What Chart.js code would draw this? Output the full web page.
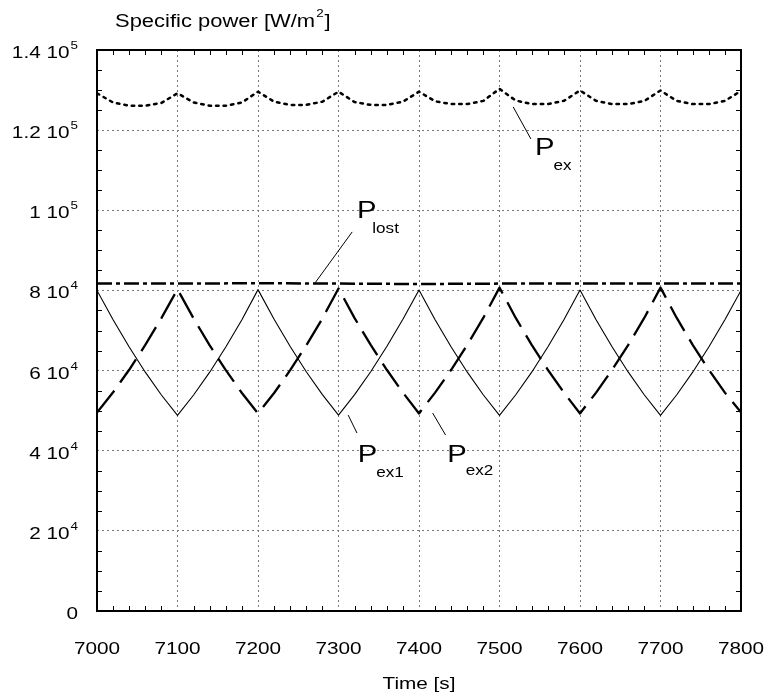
<!DOCTYPE html>
<html>
<head>
<meta charset="utf-8">
<script src="https://cdn.jsdelivr.net/npm/chart.js@4.4.1/dist/chart.umd.min.js"></script>
<style>
html,body{margin:0;padding:0;background:#fff}
canvas{display:block}
</style>
</head>
<body>
<canvas id="c" width="769" height="699"></canvas>
<script>
// time axis samples [s]
const T = [7000,7020,7040,7060,7080,7100,7120,7140,7160,7180,7200,7220,7240,7260,7280,7300,7320,7340,7360,7380,
           7400,7420,7440,7460,7480,7500,7520,7540,7560,7580,7600,7620,7640,7660,7680,7700,7720,7740,7760,7780,7800];
const T_LOST = [7000,7100,7200,7300,7400,7500,7600,7700,7800];

// specific power [W/m2]
const P_EX   = [129200,126900,126100,126100,126800, 129200,126900,126100,126100,126900, 129600,127100,126300,126300,127100,
                129600,127000,126300,126300,127100, 129600,127200,126500,126500,127300, 130300,127400,126500,126500,127300,
                129900,127300,126500,126500,127300, 129900,127300,126500,126500,127300, 129800];
const P_EX1  = [80000,72700,65900,59600,53900, 48800,53900,59600,65900,72700, 80200,72800,66000,59700,54000,
                48900,54000,59700,66000,72800, 80100,72700,65900,59600,53900, 48800,53900,59600,65900,72700,
                80100,72700,65900,59600,53900, 48800,53900,59600,65900,72700, 80000];
const P_EX2  = [49500,54600,60200,66400,73100, 80300,73000,66300,60100,54400, 49300,54400,60100,66300,73000,
                80500,73100,66400,60200,54500, 49300,54500,60200,66400,73200, 80700,73200,66400,60200,54500,
                49300,54500,60200,66400,73200, 80700,73200,66400,60200,54500, 49600];
const P_LOST = [81700,81700,81800,81700,81600,81700,81700,81700,81700];

// tick labels
const X_TICKS = [7000,7100,7200,7300,7400,7500,7600,7700,7800];
const Y_TICKS = [0,20000,40000,60000,80000,100000,120000,140000];
const Y_MANT  = ['0','2 10','4 10','6 10','8 10','1 10','1.2 10','1.4 10'];
const Y_EXP   = ['','4','4','4','4','5','5','5'];

// curve labels with leader lines, in data units
const NOTES = [
  {p:'P', sub:'ex',   px:7544, py:113800, sx:7567, sy:110100, l:[7517,125800,7539,117800]},
  {p:'P', sub:'lost', px:7323, py:98100,  sx:7342, sy:94300,  l:[7271,81900,7317,94600]},
  {p:'P', sub:'ex1',  px:7324, py:37200,  sx:7347, sy:33400,  l:[7312,48900,7323,44400]},
  {p:'P', sub:'ex2',  px:7435, py:37200,  sx:7458, sy:33900,  l:[7417,49400,7433,43900]},
];

const FONT = '"Liberation Sans", Arial, Helvetica, sans-serif';
const SX = 1.22; // glyphs in the original are a bit wide

function tw(ctx, s, size) {
  ctx.font = size + 'px ' + FONT;
  return ctx.measureText(s).width * SX;
}
function txt(ctx, s, x, y, size) {
  ctx.save();
  ctx.font = size + 'px ' + FONT;
  ctx.fillStyle = '#000';
  ctx.textAlign = 'left';
  ctx.textBaseline = 'alphabetic';
  ctx.translate(x, y);
  ctx.scale(SX, 1);
  ctx.fillText(s, 0, 0);
  ctx.restore();
}

const frame = {
  id: 'frame',
  afterDraw(chart) {
    const ctx = chart.ctx, a = chart.chartArea;
    const xs = chart.scales.x, ys = chart.scales.y;
    ctx.save();
    ctx.strokeStyle = '#000';
    ctx.lineWidth = 1;
    ctx.beginPath();
    for (let v = 7000; v <= 7800; v += 20) {
      if (v % 100 === 0) continue;
      const x = Math.round(xs.getPixelForValue(v)) + 0.5;
      ctx.moveTo(x, a.bottom); ctx.lineTo(x, a.bottom - 5);
      ctx.moveTo(x, a.top); ctx.lineTo(x, a.top + 5);
    }
    for (let v = 0; v <= 140000; v += 5000) {
      if (v % 20000 === 0) continue;
      const y = Math.round(ys.getPixelForValue(v)) + 0.5;
      ctx.moveTo(a.left, y); ctx.lineTo(a.left + 5, y);
      ctx.moveTo(a.right, y); ctx.lineTo(a.right - 5, y);
    }
    ctx.stroke();
    ctx.lineWidth = 2;
    ctx.strokeRect(a.left, a.top, a.right - a.left, a.bottom - a.top);

    // leader lines
    ctx.lineWidth = 1;
    ctx.beginPath();
    NOTES.forEach(n => {
      ctx.moveTo(xs.getPixelForValue(n.l[0]), ys.getPixelForValue(n.l[1]));
      ctx.lineTo(xs.getPixelForValue(n.l[2]), ys.getPixelForValue(n.l[3]));
    });
    ctx.stroke();
    ctx.restore();

    NOTES.forEach(n => {
      txt(ctx, n.p, xs.getPixelForValue(n.px), ys.getPixelForValue(n.py), 24);
      txt(ctx, n.sub, xs.getPixelForValue(n.sx), ys.getPixelForValue(n.sy), 14);
    });

    // y tick labels with powers of ten
    Y_TICKS.forEach((v, i) => {
      const y = ys.getPixelForValue(v) + 8;
      const we = Y_EXP[i] ? tw(ctx, Y_EXP[i], 11) + 1 : 0;
      const wm = tw(ctx, Y_MANT[i], 17);
      const right = 78;
      txt(ctx, Y_MANT[i], right - we - wm, y, 17);
      if (Y_EXP[i]) txt(ctx, Y_EXP[i], right - we + 1, y - 9, 11);
    });

    // x tick labels
    X_TICKS.forEach(v => {
      const x = xs.getPixelForValue(v);
      txt(ctx, String(v), x - tw(ctx, String(v), 17) / 2, 654, 17);
    });

    // axis titles
    const mid = (a.left + a.right) / 2;
    txt(ctx, 'Time [s]', mid - tw(ctx, 'Time [s]', 17) / 2, 689, 17);
    const t1 = 'Specific power [W/m';
    let x0 = 115;
    txt(ctx, t1, x0, 27, 18);
    x0 += tw(ctx, t1, 18);
    txt(ctx, '2', x0 + 1, 17, 11);
    x0 += tw(ctx, '2', 11) + 2;
    txt(ctx, ']', x0, 27, 18);
  }
};

const pts = (xs, ys) => xs.map((x, i) => ({x, y: ys[i]}));
const line = {pointRadius: 0, tension: 0, fill: false, borderColor: '#000', borderJoinStyle: 'round'};

new Chart(document.getElementById('c'), {
  type: 'line',
  data: {datasets: [
    {...line, label: 'P_ex',   data: pts(T, P_EX),        borderWidth: 2.5, borderDash: [2.5, 5], borderCapStyle: 'round'},
    {...line, label: 'P_lost', data: pts(T_LOST, P_LOST), borderWidth: 2.5, borderDash: [15, 4, 4, 4]},
    {...line, label: 'P_ex1',  data: pts(T, P_EX1),       borderWidth: 1.1},
    {...line, label: 'P_ex2',  data: pts(T, P_EX2),       borderWidth: 2.3, borderDash: [28, 10]},
  ]},
  options: {
    responsive: false,
    animation: false,
    devicePixelRatio: 1,
    layout: {padding: {left: 97, right: 28, top: 50, bottom: 88}},
    plugins: {legend: {display: false}, tooltip: {enabled: false}},
    scales: {
      x: {type: 'linear', min: 7000, max: 7800,
          ticks: {display: false, stepSize: 100},
          grid: {drawTicks: false, color: '#777', lineWidth: 1},
          border: {display: false, dash: [2, 3]}},
      y: {min: 0, max: 140000,
          ticks: {display: false, stepSize: 20000},
          grid: {drawTicks: false, color: '#777', lineWidth: 1},
          border: {display: false, dash: [2, 3]}},
    }
  },
  plugins: [frame]
});
</script>
</body>
</html>
